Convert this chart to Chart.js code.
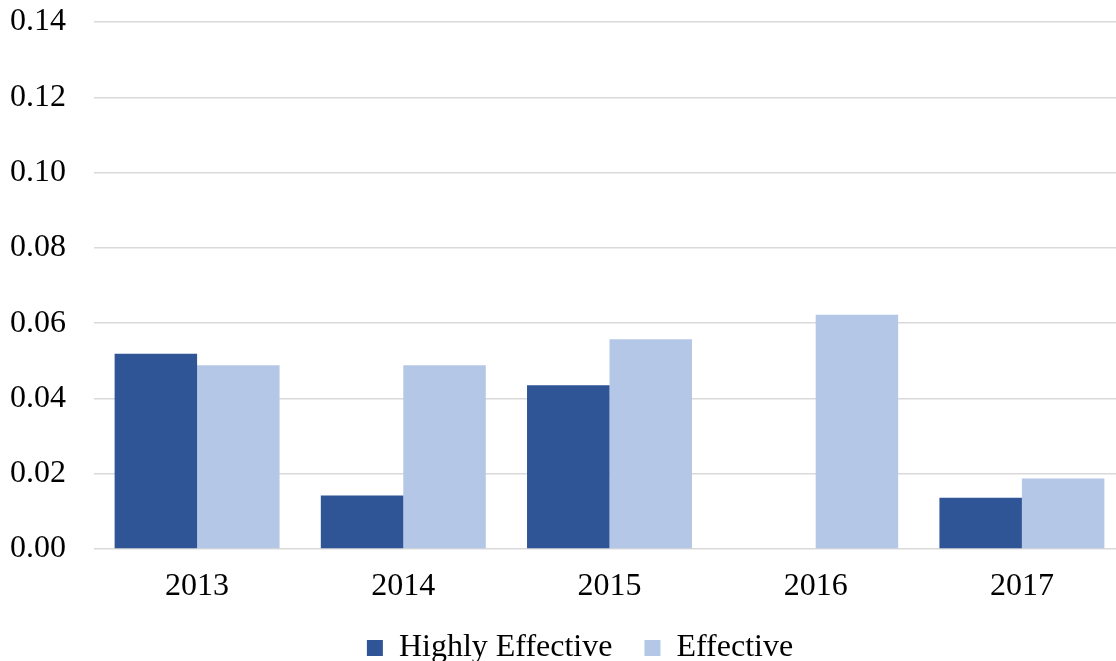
<!DOCTYPE html>
<html>
<head>
<meta charset="utf-8">
<script src="https://cdn.jsdelivr.net/npm/chart.js@4/dist/chart.umd.min.js"></script>
<style>
  html, body { margin: 0; padding: 0; background: #fff; overflow: hidden; }
  #wrap { width: 1125px; height: 661px; }
</style>
</head>
<body>
<div id="wrap"><canvas id="chart"></canvas></div>
<script>
// data
const years = ['2013', '2014', '2015', '2016', '2017'];
const highlyEffective = [0.0519, 0.0142, 0.0435, 0, 0.0136];
const effective = [0.0488, 0.0488, 0.0557, 0.0622, 0.0187];
const seriesNames = ['Highly Effective', 'Effective'];

const font = { family: '"Liberation Serif", "Times New Roman", serif', size: 32 };

// nudge the legend to where it sits in the picture
const shiftLegend = {
  id: 'shiftLegend',
  afterLayout(chart) {
    chart.legend.left += 12;
    chart.legend.right += 12;
  }
};

const ctx = document.getElementById('chart').getContext('2d');
new Chart(ctx, {
  type: 'bar',
  data: {
    labels: years,
    datasets: [
      { label: seriesNames[0], data: highlyEffective, backgroundColor: '#2F5597' },
      { label: seriesNames[1], data: effective, backgroundColor: '#B4C7E7' }
    ]
  },
  plugins: [shiftLegend],
  options: {
    responsive: true,
    maintainAspectRatio: false,
    animation: false,
    categoryPercentage: 0.8,
    barPercentage: 1.0,
    layout: { padding: { top: 22, left: 11, right: 0, bottom: -13 } },
    plugins: {
      tooltip: { enabled: false },
      legend: {
        position: 'bottom',
        labels: {
          font: font,
          color: '#000',
          boxWidth: 16,
          boxHeight: 16,
          padding: 8,
          generateLabels: chart => Chart.defaults.plugins.legend.labels.generateLabels(chart)
            .map((item, i) => ({ ...item, text: i === 0 ? item.text + '\u00a0\u00a0\u00a0' : item.text }))
        }
      }
    },
    scales: {
      x: {
        grid: { display: false, drawTicks: false },
        border: { display: false },
        afterFit: scale => { scale.height = 75; },
        ticks: { font: font, color: '#000', padding: 18 }
      },
      y: {
        min: 0,
        max: 0.14,
        afterFit: scale => { scale.width = 83; scale.paddingTop = 0; scale.paddingBottom = 0; },
        ticks: {
          stepSize: 0.02,
          font: font,
          color: '#000',
          padding: 28,
          callback: v => v.toFixed(2)
        },
        grid: { color: '#D9D9D9', lineWidth: 1.5, drawTicks: false },
        border: { display: false }
      }
    }
  }
});
</script>
</body>
</html>
